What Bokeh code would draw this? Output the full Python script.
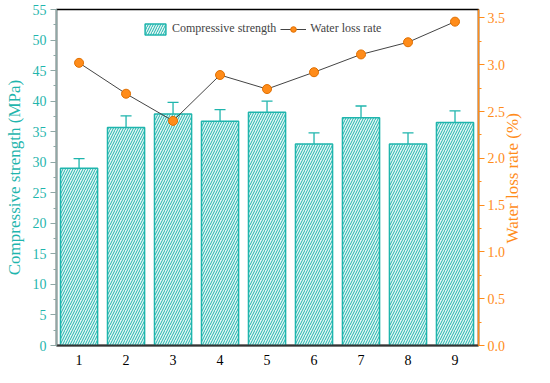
import math
from bokeh.plotting import figure
from bokeh.models import (Range1d, LinearAxis, ColumnDataSource, Whisker, Legend, LegendItem,
                          FixedTicker, NumeralTickFormatter)
from bokeh.embed import file_html
from bokeh.resources import INLINE

groups = [1, 2, 3, 4, 5, 6, 7, 8, 9]
strength = [29.0, 35.7, 37.9, 36.7, 38.2, 33.0, 37.3, 33.0, 36.5]
strength_err = [1.6, 1.9, 1.9, 1.9, 1.8, 1.8, 1.9, 1.8, 1.9]
water_loss = [3.02, 2.69, 2.40, 2.89, 2.74, 2.92, 3.11, 3.24, 3.46]

TEAL = "#1fb5ad"
ORANGE = "#ff8c1a"
FONT = "Times New Roman"

src = ColumnDataSource(dict(
    x=groups, top=strength,
    upper=[s + e for s, e in zip(strength, strength_err)],
    lower=[s - e for s, e in zip(strength, strength_err)],
    w=water_loss,
))

p = figure(width=534, height=367, output_backend="svg", toolbar_location=None,
           x_range=Range1d(0.52, 9.5), y_range=Range1d(0, 55),
           min_border_left=56, min_border_right=47, min_border_top=9, min_border_bottom=20)
p.extra_y_ranges = {"w": Range1d(0, 3.59)}

p.grid.visible = False
p.outline_line_color = "black"
p.outline_line_width = 1.5
p.background_fill_color = "white"

bars = p.vbar(x="x", top="top", width=0.79, source=src, fill_color="#e4f5f4",
              line_color=TEAL, line_width=1.5, hatch_pattern="/", hatch_color=TEAL,
              hatch_scale=5, hatch_weight=1.0)
wh = Whisker(base="x", upper="upper", lower="lower", source=src,
             line_color=TEAL, line_width=1.3)
wh.upper_head.line_color = TEAL
wh.lower_head.line_color = TEAL
wh.upper_head.size = 11
wh.lower_head.size = 11
wh.upper_head.line_width = 1.3
wh.lower_head.line_width = 1.3
p.add_layout(wh)

ln = p.line(x="x", y="w", source=src, y_range_name="w", line_color="#444444", line_width=1)
pts = p.scatter(x="x", y="w", source=src, y_range_name="w", size=9,
                fill_color=ORANGE, line_color="#e06f00", line_width=1)

# left axis
ax = p.yaxis[0]
ax.ticker = FixedTicker(ticks=list(range(0, 56, 5)),
                        minor_ticks=[i * 2.5 for i in range(0, 23)])
ax.axis_label = "Compressive strength (MPa)"
ax.axis_label_text_font = FONT
ax.axis_label_text_font_style = "normal"
ax.axis_label_text_font_size = "17px"
ax.axis_label_text_color = TEAL
ax.axis_label_standoff = 6
ax.major_label_text_font = FONT
ax.major_label_text_font_size = "14px"
ax.major_label_text_color = TEAL
ax.major_label_standoff = 4
ax.axis_line_color = "#8fa8a6"
ax.axis_line_width = 1.5
ax.major_tick_line_color = "#8fa8a6"
ax.minor_tick_line_color = "#8fa8a6"
ax.major_tick_out = 6
ax.major_tick_in = 0
ax.minor_tick_out = 3
ax.minor_tick_in = 0

# right axis
rax = LinearAxis(y_range_name="w")
rax.ticker = FixedTicker(ticks=[i * 0.5 for i in range(0, 8)],
                         minor_ticks=[i * 0.25 for i in range(0, 15)])
rax.formatter = NumeralTickFormatter(format="0.0")
rax.major_label_text_font = FONT
rax.major_label_text_font_size = "14px"
rax.major_label_text_color = ORANGE
rax.major_label_standoff = 3
rax.axis_line_color = ORANGE
rax.axis_line_width = 1.5
rax.major_tick_line_color = ORANGE
rax.minor_tick_line_color = ORANGE
rax.major_tick_out = 6
rax.major_tick_in = 0
rax.minor_tick_out = 3
rax.minor_tick_in = 0
label_text = "Water loss rate (%)"
rax.axis_label_orientation = math.pi / 2
if "axis_label_align" in rax.properties():
    rax.axis_label_align = "start"
    label_text = "\u00a0" * 24 + label_text
rax.axis_label = label_text
rax.axis_label_text_font = FONT
rax.axis_label_text_font_style = "normal"
rax.axis_label_text_font_size = "17px"
rax.axis_label_text_color = ORANGE
rax.axis_label_standoff = 4
p.add_layout(rax, "right")

# bottom axis
bx = p.xaxis[0]
bx.ticker = FixedTicker(ticks=groups)
bx.major_label_text_font = FONT
bx.major_label_text_font_size = "14px"
bx.major_label_text_color = "black"
bx.axis_line_color = "#333333"
bx.axis_line_width = 2
bx.major_tick_line_color = None
bx.minor_tick_line_color = None
bx.major_label_standoff = 3

legend = Legend(items=[
    LegendItem(label="Compressive strength", renderers=[bars]),
    LegendItem(label="Water loss rate", renderers=[ln, pts]),
], orientation="horizontal", location=(86, 309))
legend.border_line_color = None
legend.background_fill_alpha = 0
legend.label_text_font = FONT
legend.label_text_font_size = "12px"
legend.glyph_width = 26
legend.glyph_height = 14
legend.spacing = 4
legend.label_standoff = 4
legend.padding = 2
legend.margin = 0
p.add_layout(legend, "center")

open("out.html", "w").write(file_html(p, INLINE))
